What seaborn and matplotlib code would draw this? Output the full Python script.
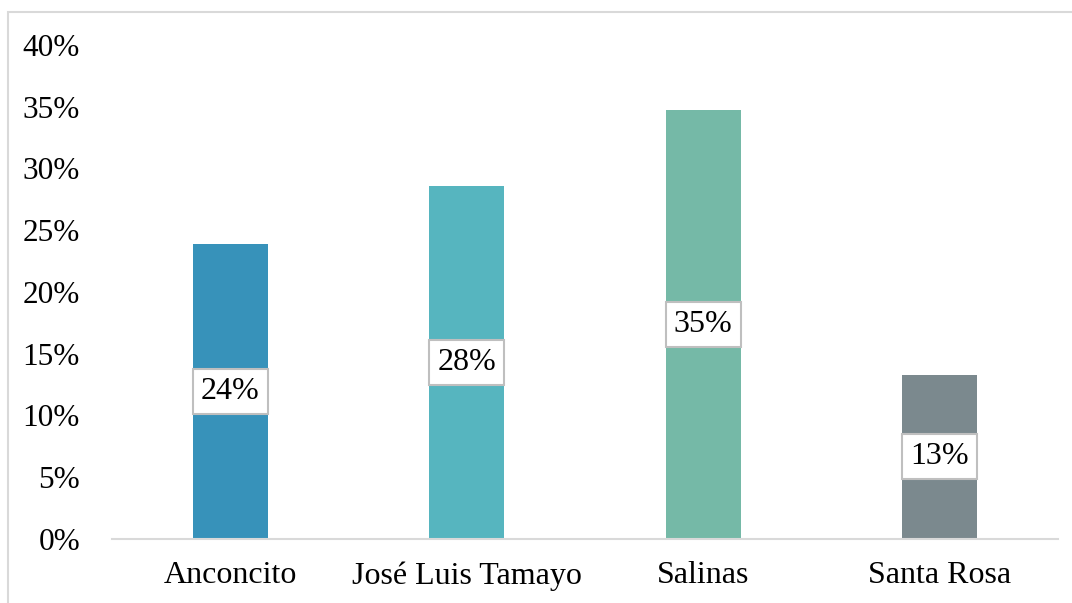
import matplotlib
matplotlib.use("Agg")
import matplotlib.pyplot as plt
import matplotlib.patches as mpatches
from matplotlib.ticker import FuncFormatter
import seaborn as sns
import pandas as pd

categories = ["Anconcito", "José Luis Tamayo", "Salinas", "Santa Rosa"]
values = [0.239, 0.286, 0.347, 0.133]
labels = ["24%", "28%", "35%", "13%"]
colors = ["#3792BA", "#56B5BF", "#75B9A7", "#7B898E"]

sns.set_theme(style="white")
plt.rcParams["font.family"] = ["Liberation Serif", "DejaVu Serif"]

W, H = 1072, 603
fig = plt.figure(figsize=(W / 100, H / 100), dpi=100)
ax = fig.add_axes([112 / W, 1 - 539 / H, (1058 - 112) / W, (539 - 45) / H])

df = pd.DataFrame({"cat": categories, "val": values})
sns.barplot(data=df, x="cat", y="val", hue="cat", palette=colors, legend=False,
            width=0.317, saturation=1, linewidth=0, ax=ax)

ax.set_ylim(0, 0.40)
ax.set_yticks([i * 0.05 for i in range(9)])
ax.yaxis.set_major_formatter(FuncFormatter(lambda v, p: f"{v*100:.0f}%"))
ax.set_xlabel("")
ax.set_ylabel("")
for s in ["top", "right", "left"]:
    ax.spines[s].set_visible(False)
ax.spines["bottom"].set_color("#D9D9D9")
ax.spines["bottom"].set_linewidth(1.5)
ax.tick_params(axis="y", length=0, pad=23, labelsize=22.5, colors="black")
ax.tick_params(axis="x", length=0, pad=16, labelsize=23, colors="black")
ax.set_xlim(-0.5, 3.5)

for i, (v, lab) in enumerate(zip(values, labels)):
    ax.text(i, v / 2, lab, ha="center", va="center", fontsize=23, color="black",
            bbox=dict(boxstyle="square,pad=0.25", facecolor="white", edgecolor="#BFBFBF", linewidth=1.5))

rect = mpatches.Rectangle((8 / W, -0.2), 1.2, 1.2 - 12 / H, transform=fig.transFigure,
                          fill=False, edgecolor="#D9D9D9", linewidth=1.5)
fig.patches.append(rect)

fig.savefig("out.png", dpi=100)
